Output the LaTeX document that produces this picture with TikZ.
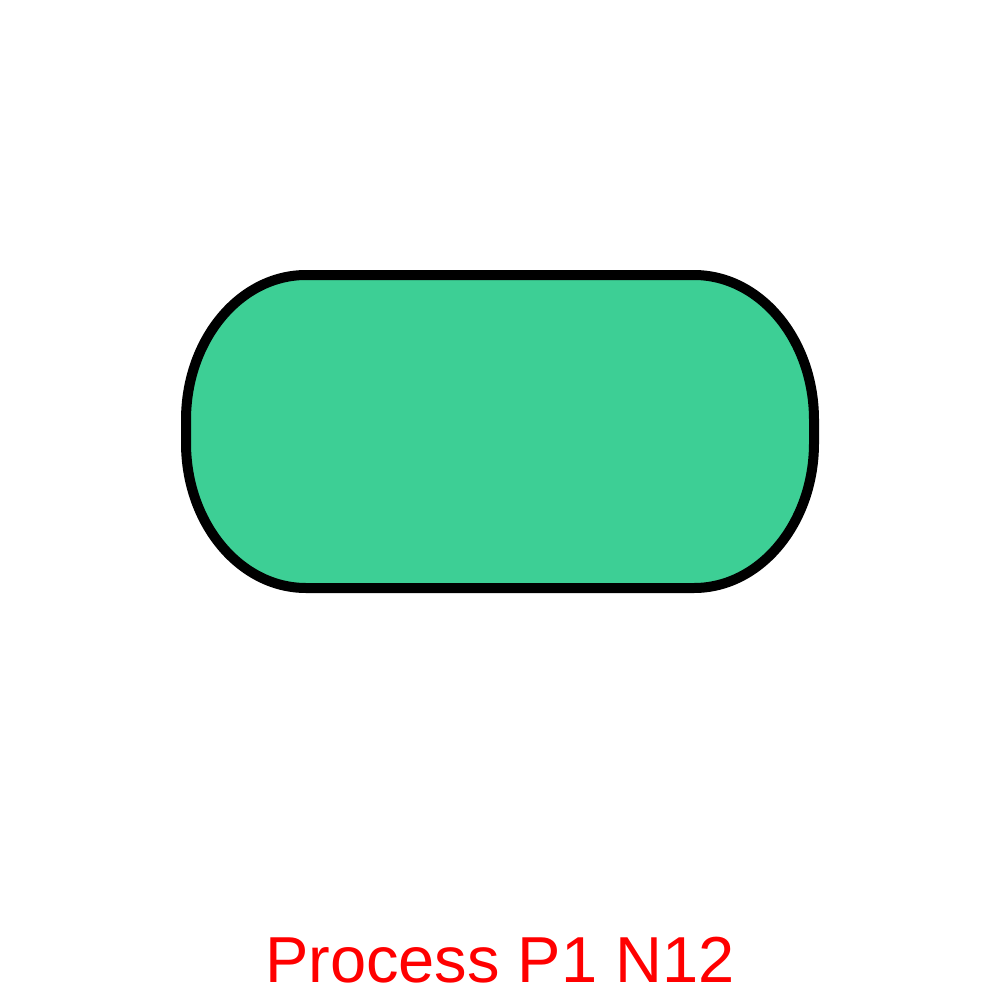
\documentclass[tikz,border=0pt]{standalone}
\usepackage{fontspec}
\setmainfont{Liberation Sans}
\definecolor{shapefill}{HTML}{3DCF95}
\definecolor{labelred}{HTML}{FF0000}
\begin{document}
\begin{tikzpicture}[x=1pt,y=-1pt,
  procshape/.style={draw=black, line width=10pt, fill=shapefill, line join=round},
  caption/.style={text=labelred, font=\fontsize{65}{78}\selectfont, inner sep=0pt, anchor=base}]
\useasboundingbox (0,0) rectangle (1000,1000);
\path[procshape] (306,275) -- (694,275)
  arc[start angle=-90, end angle=0, x radius=120, y radius=145]
  -- (814,443)
  arc[start angle=0, end angle=90, x radius=120, y radius=145]
  -- (306,588)
  arc[start angle=90, end angle=180, x radius=120, y radius=145]
  -- (186,420)
  arc[start angle=180, end angle=270, x radius=120, y radius=145]
  -- cycle;
\coordinate (proc) at (500,431);
\node[caption] (label) at (500,982) {Process P1 N12};
\end{tikzpicture}
\end{document}
